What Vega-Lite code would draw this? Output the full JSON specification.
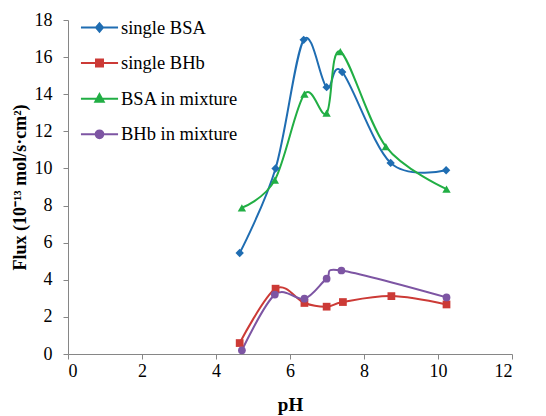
{
  "$schema": "https://vega.github.io/schema/vega-lite/v6.json",
  "width": 444,
  "height": 334,
  "autosize": {"type": "none"},
  "padding": {"left": 68, "top": 20, "right": 34, "bottom": 62},
  "background": "white",
  "config": {
    "view": {"stroke": null},
    "font": "Liberation Serif",
    "style": {"guide-label": {"font": "Liberation Serif"}, "guide-title": {"font": "Liberation Serif"}},
    "axis": {"grid": false, "domainColor": "#868686", "tickColor": "#868686", "tickSize": 5, "labelFont": "Liberation Serif", "labelFontSize": 18, "labelColor": "#000000", "titleFont": "Liberation Serif", "titleFontWeight": "bold", "titleColor": "#000000", "titleFontSize": 18},
    "legend": {"labelFont": "Liberation Serif"}
  },
  "data": {"values": [
    {"series": "single BSA", "pH": 4.64, "flux": 5.44},
    {"series": "single BSA", "pH": 5.61, "flux": 10.0},
    {"series": "single BSA", "pH": 6.37, "flux": 16.93},
    {"series": "single BSA", "pH": 6.99, "flux": 14.38},
    {"series": "single BSA", "pH": 7.41, "flux": 15.2},
    {"series": "single BSA", "pH": 8.72, "flux": 10.3},
    {"series": "single BSA", "pH": 10.22, "flux": 9.9},
    {"series": "single BHb", "pH": 4.64, "flux": 0.59},
    {"series": "single BHb", "pH": 5.61, "flux": 3.52},
    {"series": "single BHb", "pH": 6.39, "flux": 2.75},
    {"series": "single BHb", "pH": 6.99, "flux": 2.55},
    {"series": "single BHb", "pH": 7.43, "flux": 2.8},
    {"series": "single BHb", "pH": 8.74, "flux": 3.12},
    {"series": "single BHb", "pH": 10.23, "flux": 2.67},
    {"series": "BSA in mixture", "pH": 4.7, "flux": 7.88},
    {"series": "BSA in mixture", "pH": 5.59, "flux": 9.37},
    {"series": "BSA in mixture", "pH": 6.39, "flux": 14.0},
    {"series": "BSA in mixture", "pH": 6.99, "flux": 12.98},
    {"series": "BSA in mixture", "pH": 7.36, "flux": 16.3},
    {"series": "BSA in mixture", "pH": 8.59, "flux": 11.18},
    {"series": "BSA in mixture", "pH": 10.23, "flux": 8.89},
    {"series": "BHb in mixture", "pH": 4.7, "flux": 0.2},
    {"series": "BHb in mixture", "pH": 5.59, "flux": 3.2},
    {"series": "BHb in mixture", "pH": 6.39, "flux": 2.98},
    {"series": "BHb in mixture", "pH": 6.99, "flux": 4.06},
    {"series": "BHb in mixture", "pH": 7.39, "flux": 4.5},
    {"series": "BHb in mixture", "pH": 10.23, "flux": 3.05}
  ]},
  "encoding": {
    "x": {"field": "pH", "type": "quantitative", "scale": {"domain": [0, 12], "nice": false}, "axis": {"values": [0, 2, 4, 6, 8, 10, 12], "title": "pH", "labelFont": "Liberation Serif", "labelPadding": 3, "titleY": 56, "titleBaseline": "alphabetic", "titleFontSize": 19}},
    "y": {"field": "flux", "type": "quantitative", "scale": {"domain": [0, 18], "nice": false}, "axis": {"values": [0, 2, 4, 6, 8, 10, 12, 14, 16, 18], "title": "Flux (10⁻¹³ mol/s·cm²)", "labelFont": "Liberation Serif", "labelPadding": 11, "titleAngle": -90, "titleX": -43, "titleY": 167, "titleBaseline": "alphabetic", "titleAlign": "center"}},
    "color": {"field": "series", "type": "nominal",
      "scale": {"domain": ["single BSA", "single BHb", "BSA in mixture", "BHb in mixture"], "range": ["#1F6DB2", "#CC3A36", "#21AE44", "#7D55A3"]},
      "legend": {"title": null, "orient": "none", "legendX": 13, "legendY": -11, "padding": 0, "offset": 0,
        "symbolSize": 1225, "rowPadding": 7.6, "labelOffset": 3, "labelFont": "Liberation Serif", "labelFontSize": 18.5, "labelColor": "#000000", "labelLimit": 300,
        "encode": {"symbols": {"update": {
          "shape": {"signal": "datum.value === 'single BSA' ? 'M-1.06,0H1.06M0,-0.24L0.2,0L0,0.24L-0.2,0Z' : datum.value === 'single BHb' ? 'M-1.06,0H1.06M-0.2,-0.2H0.2V0.2H-0.2Z' : datum.value === 'BSA in mixture' ? 'M-1.06,0H1.06M0,-0.26L0.24,0.17L-0.24,0.17Z' : 'M-1.06,0H1.06M-0.22,0A0.22,0.22,0,1,1,0.22,0A0.22,0.22,0,1,1,-0.22,0Z'"},
          "fill": {"signal": "scale('color', datum.value)"},
          "stroke": {"signal": "scale('color', datum.value)"},
          "strokeWidth": {"value": 2},
          "opacity": {"value": 1},
          "fillOpacity": {"value": 1}
        }}}}
    }
  },
  "layer": [
    {"mark": {"type": "line", "interpolate": "cardinal", "tension": 0, "strokeWidth": 2}},
    {"transform": [{"filter": "datum.series === 'single BSA'"}], "mark": {"type": "point", "filled": true, "opacity": 1, "size": 70, "shape": "diamond"}},
    {"transform": [{"filter": "datum.series === 'single BHb'"}], "mark": {"type": "point", "filled": true, "opacity": 1, "size": 60, "shape": "square"}},
    {"transform": [{"filter": "datum.series === 'BSA in mixture'"}], "mark": {"type": "point", "filled": true, "opacity": 1, "size": 70, "shape": "triangle-up"}},
    {"transform": [{"filter": "datum.series === 'BHb in mixture'"}], "mark": {"type": "point", "filled": true, "opacity": 1, "size": 60, "shape": "circle"}}
  ]
}
